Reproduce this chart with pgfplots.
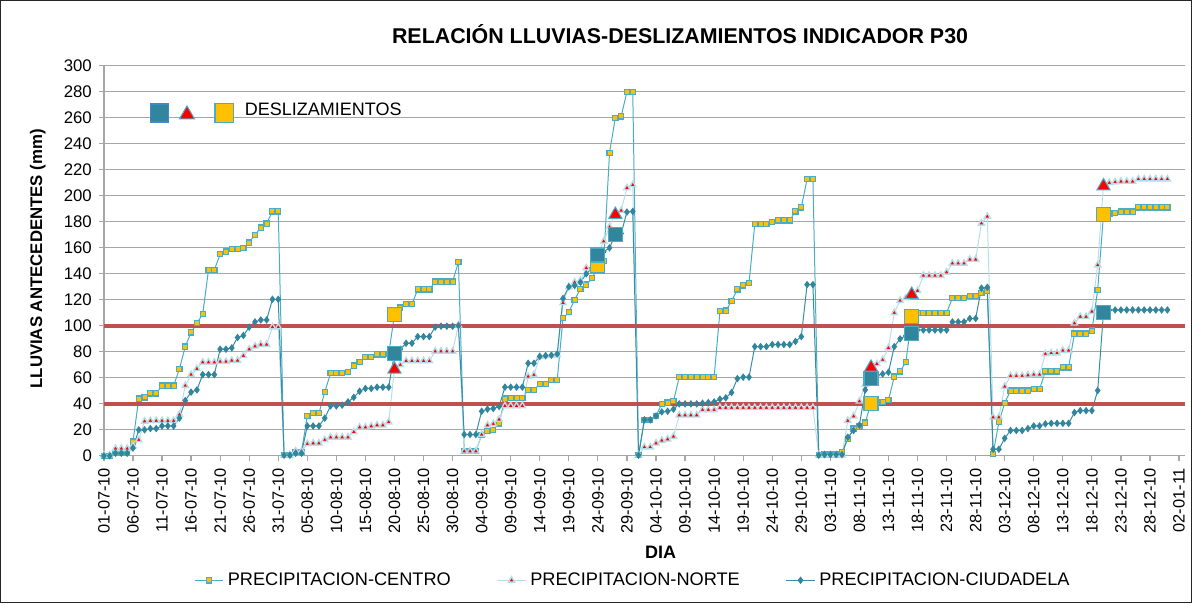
\documentclass[border=0pt]{standalone}
\usepackage{fontspec}
\setmainfont{Liberation Sans}
\usepackage{pgfplots}
\pgfplotsset{compat=1.18}
\usepackage{pgfplotstable}

\definecolor{tealD}{RGB}{49,133,156}
\definecolor{aqua}{RGB}{75,172,198}
\definecolor{gold}{RGB}{255,192,0}
\definecolor{paleblue}{RGB}{183,222,232}
\definecolor{limite}{RGB}{192,80,77}
\definecolor{gridgray}{RGB}{166,166,166}

% P30 diario: d = dia desde 01-07-10, C = centro, N = norte, D = ciudadela
\pgfplotstableread{
d C N D
0 0 0.5 0
1 0 0.5 0
2 2 5.6 2
3 2 5.6 2
4 2 5.6 2
5 11 7.5 6
6 44 12.3 20
7 45 26.6 20
8 48 27 21
9 48 27 21
10 54 27 23
11 54 27 23
12 54 27 23
13 67 31.8 29
14 84 54 42.5
15 95 62.5 49
16 102 67 50.7
17 109 72 62.5
18 143 72 62.5
19 143 72 62.5
20 155 72.5 82
21 157 72.5 82
22 159 73.3 83
23 159 73.3 91
24 160 77 92.5
25 164 82 99
26 170 84.3 103
27 175.5 85.6 104.5
28 178.6 85.6 104.5
29 188 99 120.4
30 188 99 120.4
31 0.5 0.5 0.5
32 0.5 0.5 0.5
33 3 3.6 2
34 3 3.6 2
35 30.7 9.2 23
36 32.8 9.7 23
37 32.8 9.7 23
38 49 12.3 29
39 63.5 14.3 38.4
40 63.5 14.3 38.4
41 63.5 14.3 39
42 64.5 14.3 41.5
43 69.4 18.4 45
44 72 22 49.7
45 76 22 51.8
46 76 22.8 51.8
47 78 23.6 52.8
48 78 23.6 52.8
49 78.5 26 52.8
50 108.4 67 79
51 114 70 82
52 116.6 73 86.6
53 116.6 73 86.6
54 128 73 91.7
55 128 73 91.7
56 128 73 91.7
57 134 80.4 99
58 134 80.4 99.7
59 134 80.4 99.7
60 134 80.4 99.7
61 149 100.5 100.2
62 3.6 3.6 16.4
63 3.6 3.6 16.4
64 3.6 3.6 16.4
65 16 16.4 34.3
66 19 23.6 35.9
67 20 24.6 36.4
68 25 28 38
69 44 38.4 52.8
70 44.6 38.4 52.8
71 44.6 38.4 52.8
72 44.6 38.4 52.8
73 50.7 61 71.2
74 50.7 62.3 71.2
75 55.3 76.4 76.4
76 55.3 77 77
77 58.4 77 77.4
78 58.4 77.6 78.4
79 105.8 117.6 121
80 110.4 130 130
81 120 133.5 131
82 128.4 134.7 133.5
83 131.7 144.5 140
84 136.6 145 144.5
85 146 155 154.5
86 150 165 157
87 233 176 160
88 260 186.8 170
89 261 188.6 171
90 280 206 187.5
91 280 208.3 188
92 0.5 0.5 0.5
93 27.7 6.7 27.7
94 27.7 6.7 27.7
95 30.7 9.7 30.7
96 40 11.8 33.8
97 41 12.8 34.3
98 42 14.9 35.9
99 60.5 31.3 40
100 60.5 31.3 40
101 60.5 31.3 40
102 60.5 31.3 40
103 60.5 35.4 40.5
104 60.5 35.4 41
105 60.5 35.4 41.5
106 111.2 37 43.6
107 111.7 37 44.6
108 119 37 48.7
109 128 37 59.4
110 131 37 60.5
111 132.7 37 60.5
112 178.3 37 84
113 178.3 37 84
114 178.3 37 84
115 180 37 85.6
116 181 37 85.6
117 181 37 85.6
118 181 37 85.6
119 188 37 88
120 191 37 91.7
121 213 37 131.7
122 213 37 131.7
123 0.5 0.5 0.5
124 1 0.5 1
125 1 0.5 1
126 1 0.5 1
127 3 0.5 1
128 12.8 27 14.3
129 21 30.5 19.5
130 22.5 42 23.6
131 25.6 55 50.7
132 40.5 69.5 59.2
133 41.5 70.7 61.7
134 41.5 73.8 63
135 42.8 83 64.3
136 61 110 84
137 65 119.4 90
138 72 121.4 92.5
139 107 125.3 93.8
140 110 127 96.8
141 110 138.6 96.8
142 110 138.6 96.8
143 110 138.6 96.8
144 110 138.6 96.8
145 110 141.2 96.8
146 121.4 148 103
147 121.4 148 103
148 121.4 148 103
149 123 151 105.6
150 123 151 105.6
151 125.3 178.8 129
152 126.8 184 129.6
153 1.5 29.7 5.1
154 26 29.7 5.1
155 40.7 53.3 13.5
156 50.2 61.5 19.5
157 50.2 61.5 19.5
158 50.2 61.5 19.5
159 50.2 62 21
160 51.2 62.5 23
161 51.2 62.5 23
162 65 78.4 24.6
163 65 79 25
164 65 79 25
165 68 81 25
166 68 81 25
167 94 102 33.3
168 94 107 34.8
169 94 107 34.8
170 96.3 111 34.8
171 127.6 146.7 50.2
172 185.5 209 110.4
173 186.5 210 112.2
174 186.8 210.5 112.2
175 187.8 211 112.2
176 187.8 211 112.2
177 187.8 211 112.2
178 191 212.8 112.2
179 191 212.8 112.2
180 191 212.8 112.2
181 191 212.8 112.2
182 191 212.8 112.2
183 191 212.8 112.2
}\lluvias

\begin{document}
\begin{tikzpicture}
\begin{axis}[
  scale only axis,
  width=540.7pt, height=195.15pt,
  xmin=0, xmax=186, ymin=0, ymax=300,
  axis x line*=bottom, axis y line*=left,
  axis line style={gridgray, line width=0.6pt},
  xtick={0,5,...,185},
  xticklabels={01-07-10,06-07-10,11-07-10,16-07-10,21-07-10,26-07-10,31-07-10,
    05-08-10,10-08-10,15-08-10,20-08-10,25-08-10,30-08-10,
    04-09-10,09-09-10,14-09-10,19-09-10,24-09-10,29-09-10,
    04-10-10,09-10-10,14-10-10,19-10-10,24-10-10,29-10-10,
    03-11-10,08-11-10,13-11-10,18-11-10,23-11-10,28-11-10,
    03-12-10,08-12-10,13-12-10,18-12-10,23-12-10,28-12-10,02-01-11},
  ytick={0,20,...,300},
  tick align=outside,
  major tick length=2.5pt,
  tick style={gridgray, line width=0.6pt},
  ymajorgrids,
  grid style={gridgray, line width=0.6pt},
  x tick label style={rotate=90, anchor=east, font=\fontsize{8.2}{9.8}\selectfont},
  y tick label style={font=\fontsize{8.4}{9.8}\selectfont},
  /pgf/number format/assume math mode=true,
  title={RELACIÓN LLUVIAS-DESLIZAMIENTOS  INDICADOR P30},
  title style={at={(0.533,1)}, anchor=center, yshift=10pt,
    font=\bfseries\fontsize{10.7}{12}\selectfont},
  xlabel={DIA},
  xlabel style={at={(0.515,-0.2478)}, anchor=center,
    font=\bfseries\fontsize{9}{11}\selectfont},
  ylabel={LLUVIAS ANTECEDENTES (mm)},
  ylabel style={at={(-0.0612,0.505)}, anchor=center,
    font=\bfseries\fontsize{8.4}{10}\selectfont},
  legend style={at={(0.4904,-0.319)}, anchor=center, draw=none, fill=none,
    font=\fontsize{9.1}{11}\selectfont,
    /tikz/every even column/.append style={column sep=21pt}},
  legend columns=3,
  legend image code/.code={
    \draw[mark repeat=2, mark phase=2]
      plot coordinates {(0cm,0cm) (0.25cm,0cm) (0.5cm,0cm)};},
]

\addplot[aqua, line width=0.5pt, mark=square*, mark size=1.3pt,
  mark options={fill=gold, draw=aqua, line width=0.6pt}]
  table[x=d, y=C] {\lluvias};
\addlegendentry{PRECIPITACION-CENTRO}

\addplot[paleblue, line width=0.5pt, mark=triangle*, mark size=1.8pt,
  mark options={fill=red, draw=paleblue, line width=0.7pt}]
  table[x=d, y=N] {\lluvias};
\addlegendentry{PRECIPITACION-NORTE}

\addplot[tealD!80!aqua, line width=0.5pt, mark=diamond*, mark size=1.5pt,
  mark options={fill=tealD, draw=tealD}]
  table[x=d, y=D] {\lluvias};
\addlegendentry{PRECIPITACION-CIUDADELA}

% umbrales
\addplot[limite, line width=1.8pt, forget plot] coordinates {(0,100) (186,100)};
\addplot[limite, line width=1.8pt, forget plot] coordinates {(0,40) (186,40)};

% deslizamientos
\addplot[only marks, forget plot, mark=square*, mark size=3.5pt,
  mark options={fill=gold, draw=aqua, line width=0.6pt}]
  coordinates {(50,108.4) (85,146) (132,40.5) (139,107) (172,185.5)};
\addplot[only marks, forget plot, mark=square*, mark size=3.5pt,
  mark options={fill=tealD, draw=aqua, line width=0.6pt}]
  coordinates {(50,79) (85,154.5) (88,170) (132,59.2) (139,93.8) (172,110.4)};
\addplot[only marks, forget plot, mark=triangle*, mark size=3.8pt,
  mark options={fill=red, draw=aqua, line width=0.5pt}]
  coordinates {(50,66.5) (88,185.5) (132,68) (139,124) (172,207.5)};

% leyenda de deslizamientos
\addplot[only marks, forget plot, mark=square*, mark size=4.5pt,
  mark options={fill=tealD, draw=aqua!80!blue, line width=0.6pt}]
  coordinates {(9.5,263.6)};
\addplot[only marks, forget plot, mark=triangle*, mark size=4.3pt,
  mark options={fill=red, draw=aqua, line width=0.5pt}]
  coordinates {(14.3,262.5)};
\addplot[only marks, forget plot, mark=square*, mark size=4.7pt,
  mark options={fill=gold, draw=aqua, line width=0.8pt}]
  coordinates {(20.7,263.6)};
\node[anchor=west, font=\fontsize{9}{11}\selectfont, inner sep=0pt]
  at (axis cs:24.2,266.7) {DESLIZAMIENTOS};
\end{axis}
\draw[black!85, line width=0.75pt] (-51.6pt,-73.35pt) rectangle (543.9pt,227.65pt);
\end{tikzpicture}
\end{document}
